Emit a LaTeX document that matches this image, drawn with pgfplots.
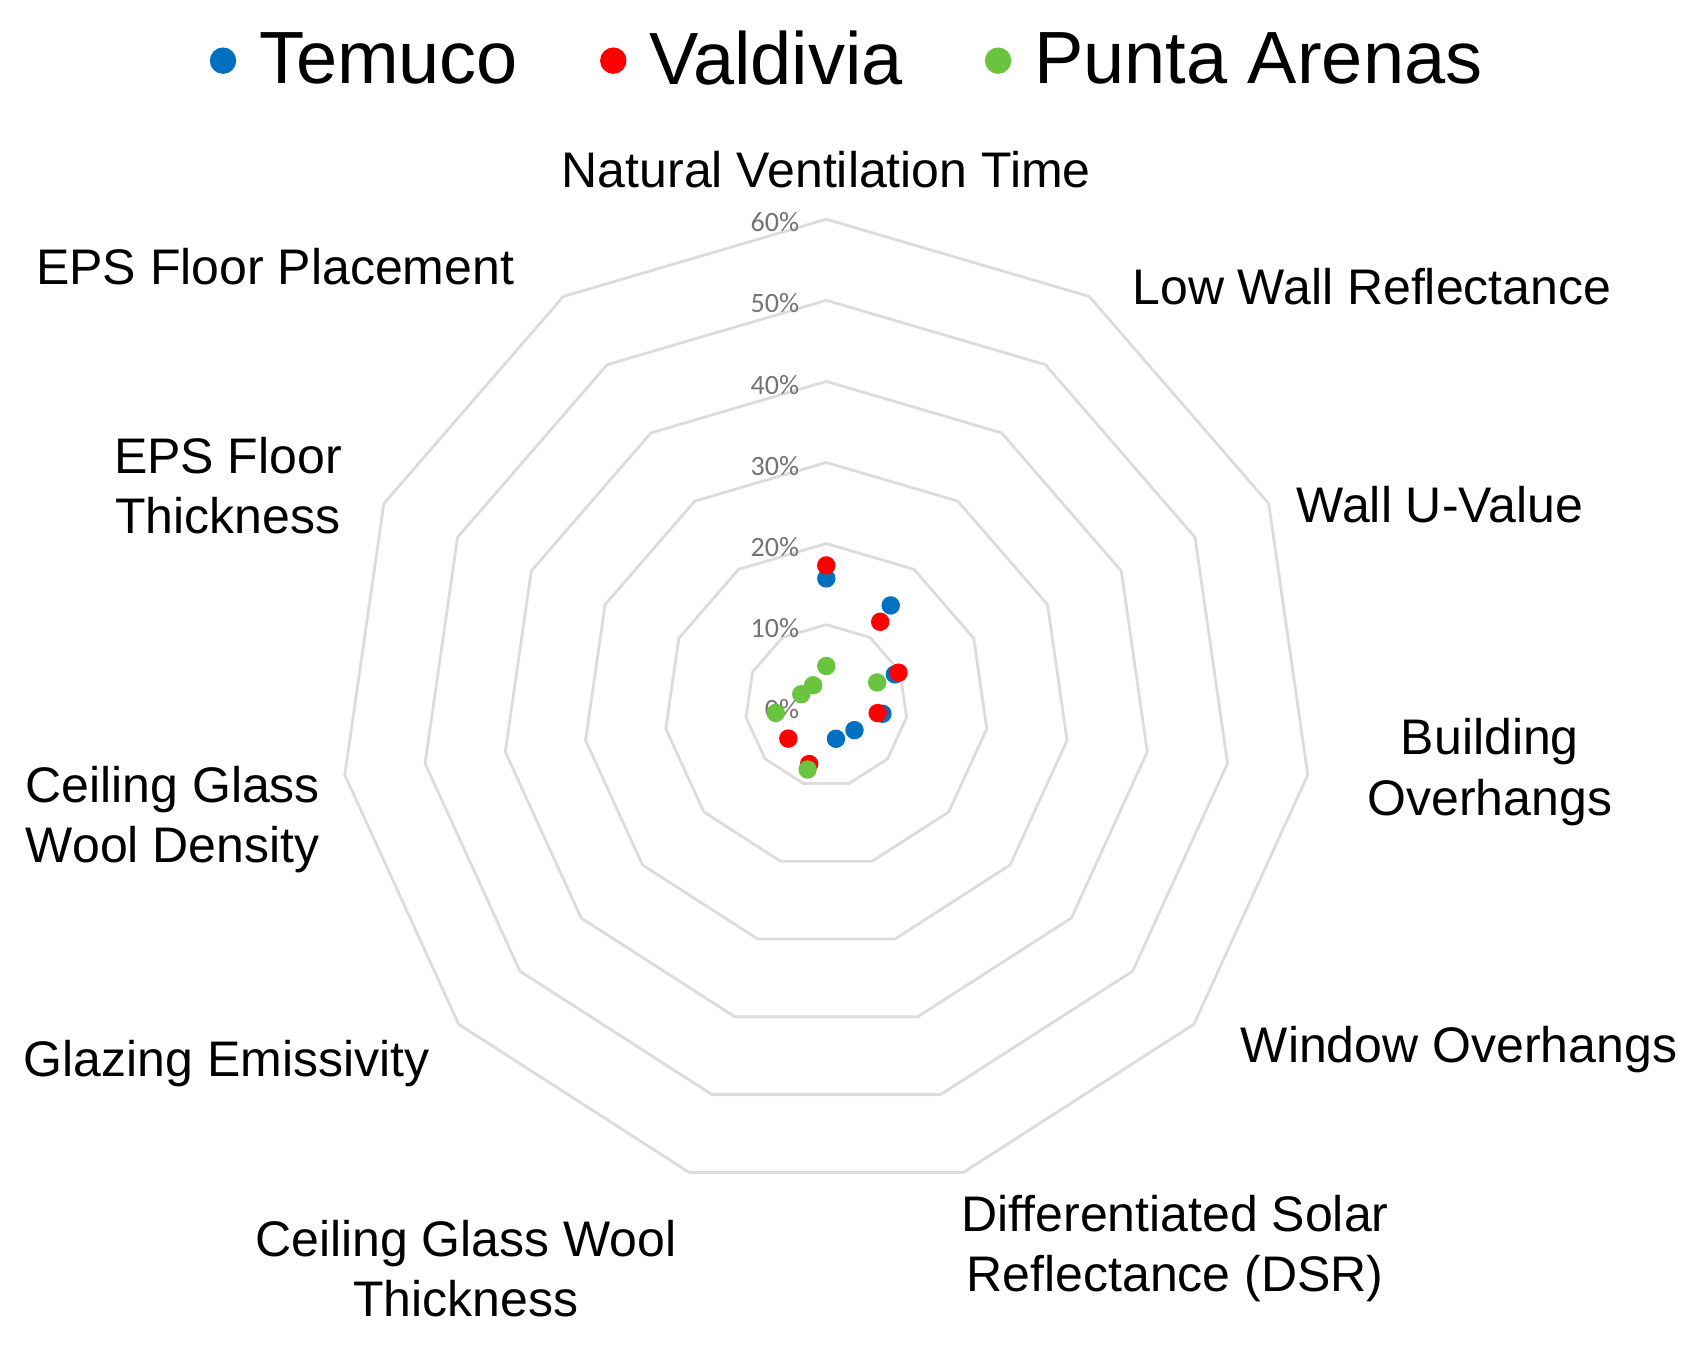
\documentclass[border=0pt]{standalone}
\usepackage{fontspec}
\setmainfont{Liberation Sans}
\newfontfamily\tickfont{Carlito}
\usepackage{pgfplots}
\usepgfplotslibrary{polar}
\pgfplotsset{compat=1.18}

\definecolor{temuco}{RGB}{0,112,192}
\definecolor{valdivia}{RGB}{255,0,0}
\definecolor{punta}{RGB}{106,196,64}
\definecolor{ring}{RGB}{220,220,220}

% angle of each category, clockwise from the top (11 spokes)
% 0 NVT 90 | 1 LWR 57.273 | 2 WallU 24.545 | 3 BO -8.182 | 4 WO -40.909
% 5 DSR -73.636 | 6 CGWT -106.364 | 7 GE -139.091 | 8 CGWD -171.818
% 9 EPS thick 155.455 | 10 EPS place 122.727

\begin{document}
\begin{tikzpicture}
\begin{polaraxis}[
    scale only axis,
    width=243.25pt, height=243.25pt,
    xmin=0, xmax=360, ymin=0, ymax=60,
    hide axis, clip=false,
    legend columns=-1,
    legend style={draw=none, fill=none, inner sep=0pt,
        at={(0.5245,1.163)}, anchor=center,
        font=\fontsize{18.5}{21}\selectfont,
        /tikz/every even column/.append style={column sep=18.5pt}},
    legend image code/.code={\fill[#1] (0pt,0pt) circle (3.1pt); \path (6.8pt,0pt);},
]
% hendecagon rings
\pgfplotsinvokeforeach{10,20,30,40,50,60}{
  \addplot[ring, line width=0.7pt, forget plot] coordinates {
    (90,#1) (57.273,#1) (24.545,#1) (-8.182,#1) (-40.909,#1) (-73.636,#1)
    (-106.364,#1) (-139.091,#1) (-171.818,#1) (155.455,#1) (122.727,#1) (90,#1)};
  \node[anchor=east, text=black!55, font=\tickfont\fontsize{7}{8}\selectfont, inner sep=0pt]
    at (axis cs:90,#1) [xshift=-6.6pt, yshift=-0.8pt] {#1\%};
}
\node[anchor=east, text=black!55, font=\tickfont\fontsize{7}{8}\selectfont, inner sep=0pt]
    at (axis cs:0,0) [xshift=-6.6pt, yshift=-0.8pt] {0\%};
\addplot[only marks, mark=*, mark size=2.1pt, temuco, mark options={draw=none, fill=temuco}] coordinates {
  (90,15.7) (57.273,14.7) (24.545,9.3) (-8.182,7.0) (-40.909,4.6) (-73.636,4.25)
};
\addlegendentry{Temuco}
\addplot[only marks, mark=*, mark size=2.1pt, valdivia, mark options={draw=none, fill=valdivia}] coordinates {
  (90,17.3) (57.273,12.3) (24.545,9.8) (-8.182,6.4) (-106.364,7.5) (-139.091,6.2)
};
\addlegendentry{Valdivia}
\addplot[only marks, mark=*, mark size=2.1pt, punta, mark options={draw=none, fill=punta}] coordinates {
  (90,4.9) (24.545,6.9) (-106.364,8.2) (-171.818,6.3) (155.455,3.4) (122.727,3.0)
};
\addlegendentry{Punta Arenas}
\coordinate (C) at (axis cs:0,0);
\end{polaraxis}

\begin{scope}[shift={(C)}, every node/.style={align=center, font=\fontsize{12.5}{15.1}\selectfont}]
\node at (0pt,134.1pt) {Natural Ventilation Time};
\node at (136.4pt,104.7pt) {Low Wall Reflectance};
\node at (153.4pt,50.2pt) {Wall U-Value};
\node at (165.9pt,-16.6pt) {Building\\Overhangs};
\node at (158.2pt,-85.9pt) {Window Overhangs};
\node at (87.2pt,-135.8pt) {Differentiated Solar\\Reflectance (DSR)};
\node at (-90.1pt,-140.7pt) {Ceiling Glass Wool\\Thickness};
\node at (-149.9pt,-89.4pt) {Glazing Emissivity};
\node at (-163.4pt,-28.4pt) {Ceiling Glass\\Wool Density};
\node at (-149.6pt,55pt) {EPS Floor\\Thickness};
\node at (-137.8pt,109.8pt) {EPS Floor Placement};
\end{scope}

\pgfresetboundingbox
\path[use as bounding box] ([shift={(-206.6pt,-159.8pt)}]C) rectangle ([shift={(216.7pt,176.45pt)}]C);
\end{tikzpicture}
\end{document}
